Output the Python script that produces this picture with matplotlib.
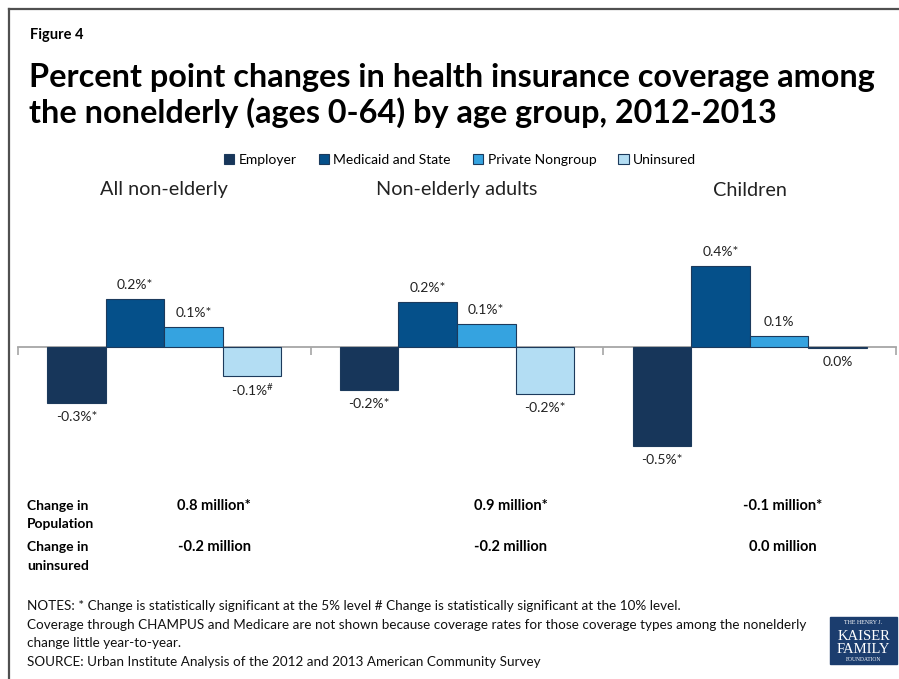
import numpy as np
import matplotlib.pyplot as plt
from matplotlib.patches import Rectangle
from matplotlib.lines import Line2D

plt.rcParams['font.family'] = ['Lato', 'DejaVu Sans']
plt.rcParams['mathtext.fontset'] = 'custom'
plt.rcParams['mathtext.rm'] = 'Lato'

# dados
grupos = ['All non-elderly', 'Non-elderly adults', 'Children']
series = ['Employer', 'Medicaid and State', 'Private Nongroup', 'Uninsured']
cores = ['#17365a', '#05508a', '#35a3e0', '#b3ddf3']

# mudanca em pontos percentuais (linha = serie, coluna = grupo)
employer = [-0.283, -0.217, -0.495]
medicaid = [0.239, 0.225, 0.404]
private = [0.099, 0.112, 0.054]
uninsured = [-0.148, -0.237, -0.008]
valores = [employer, medicaid, private, uninsured]

# marcas de significancia
marcas = [['*', '*', '*'],
          ['*', '*', '*'],
          ['*', '*', ''],
          ['#', '*', '']]

linhas_tabela = ['Change in\nPopulation', 'Change in\nuninsured']
pop_change = ['0.8 million*', '0.9 million*', '-0.1 million*']
unins_change = ['-0.2 million', '-0.2 million', '0.0 million']

notas = [
    'NOTES: * Change is statistically significant at the 5% level # Change is statistically significant at the 10% level.',
    'Coverage through CHAMPUS and Medicare are not shown because coverage rates for those coverage types among the nonelderly',
    'change little year-to-year.',
    'SOURCE: Urban Institute Analysis of the 2012 and 2013 American Community Survey',
]

W, H = 899, 679


def fx(x):
    return x / W


def fy(y):
    return 1 - y / H


fig = plt.figure(figsize=(W / 100, H / 100), dpi=100)

# moldura
fig.add_artist(Line2D([fx(9), 1], [fy(9), fy(9)], color='#505050', lw=1.6))
fig.add_artist(Line2D([fx(9), fx(9)], [fy(9), 0], color='#505050', lw=1.6))

fig.text(fx(30), fy(35), 'Figure 4', fontsize=10.5, fontweight='bold', va='center')
fig.text(fx(29), fy(78), 'Percent point changes in health insurance coverage among',
         fontsize=23.3, fontweight='bold', va='center')
fig.text(fx(29), fy(113), 'the nonelderly (ages 0-64) by age group, 2012-2013',
         fontsize=23.3, fontweight='bold', va='center')

ax = fig.add_axes([fx(18), fy(470), (896 - 18) / W, 270 / H])
x = np.arange(len(grupos))
largura = 0.2
offsets = [-0.3, -0.1, 0.1, 0.3]
barras = []
for i in range(len(series)):
    b = ax.bar(x + offsets[i], valores[i], largura, color=cores[i],
               edgecolor='#1c3a5c', linewidth=0.8, label=series[i], zorder=3)
    barras.append(b)
    for j, v in enumerate(valores[i]):
        txt = f'{round(v, 1) + 0.0:.1f}%'
        if marcas[i][j] == '#':
            txt += r'$^{\#}$'
        else:
            txt += marcas[i][j]
        desloc = 10 if v > 0 else -10
        ax.annotate(txt, (x[j] + offsets[i], v), xytext=(0, desloc),
                    textcoords='offset points', ha='center', va='center',
                    fontsize=10, color='#222222')

ax.set_xlim(-0.5, 2.5)
ax.set_ylim(-(470 - 346.7) / 200, (346.7 - 200) / 200)
for s in ['top', 'right', 'left']:
    ax.spines[s].set_visible(False)
ax.spines['bottom'].set_position(('data', 0))
ax.spines['bottom'].set_color('#a6a6a6')
ax.spines['bottom'].set_linewidth(1.3)
ax.spines['bottom'].set_zorder(2)
ax.set_xticks([-0.5, 0.5, 1.5, 2.5])
ax.set_xticklabels([])
ax.tick_params(axis='x', direction='out', length=6, color='#a6a6a6', width=1.2)
ax.set_yticks([])
ax.patch.set_alpha(0)

# titulos dos grupos
for j, g in enumerate(grupos):
    cx = 18 + (j + 0.5) * (896 - 18) / 3
    fig.text(fx(cx), fy(190), g, fontsize=14.3, ha='center', va='center', color='#222222')

fig.legend(handles=barras, labels=series, loc='center', bbox_to_anchor=(fx(460), fy(160)),
           ncol=4, frameon=False, fontsize=10, handlelength=0.75, handleheight=0.75,
           handletextpad=0.3, columnspacing=1.6)

# tabela embaixo
for k, rot in enumerate(linhas_tabela):
    y0 = 506 + k * 41
    fig.text(fx(27), fy(y0), rot.split('\n')[0], fontsize=10, fontweight='bold', va='center')
    fig.text(fx(27), fy(y0 + 18.5), rot.split('\n')[1], fontsize=10, fontweight='bold', va='center')
    vals = pop_change if k == 0 else unins_change
    for j, v in enumerate(vals):
        fig.text(fx([214, 511, 783][j]), fy(y0), v, fontsize=10.5, fontweight='bold',
                 ha='center', va='center')

for k, n in enumerate(notas):
    fig.text(fx(27), fy(606 + k * 18.7), n, fontsize=9.7, va='center', color='#111111')

# logo
fig.add_artist(Rectangle((fx(830), fy(664)), 67 / W, 47 / H, color='#1b3d6e'))
serif = ['Liberation Serif', 'DejaVu Serif']
fig.text(fx(863.5), fy(623), 'THE HENRY J.', family=serif, fontsize=4.3, color='white',
         ha='center', va='center')
fig.text(fx(863.5), fy(636), 'KAISER', family=serif, fontsize=10.5, color='white',
         ha='center', va='center')
fig.text(fx(863.5), fy(649.5), 'FAMILY', family=serif, fontsize=10.5, color='white',
         ha='center', va='center')
fig.text(fx(863.5), fy(659.5), 'FOUNDATION', family=serif, fontsize=4.0, color='white',
         ha='center', va='center')

fig.savefig('out.png', dpi=100)
